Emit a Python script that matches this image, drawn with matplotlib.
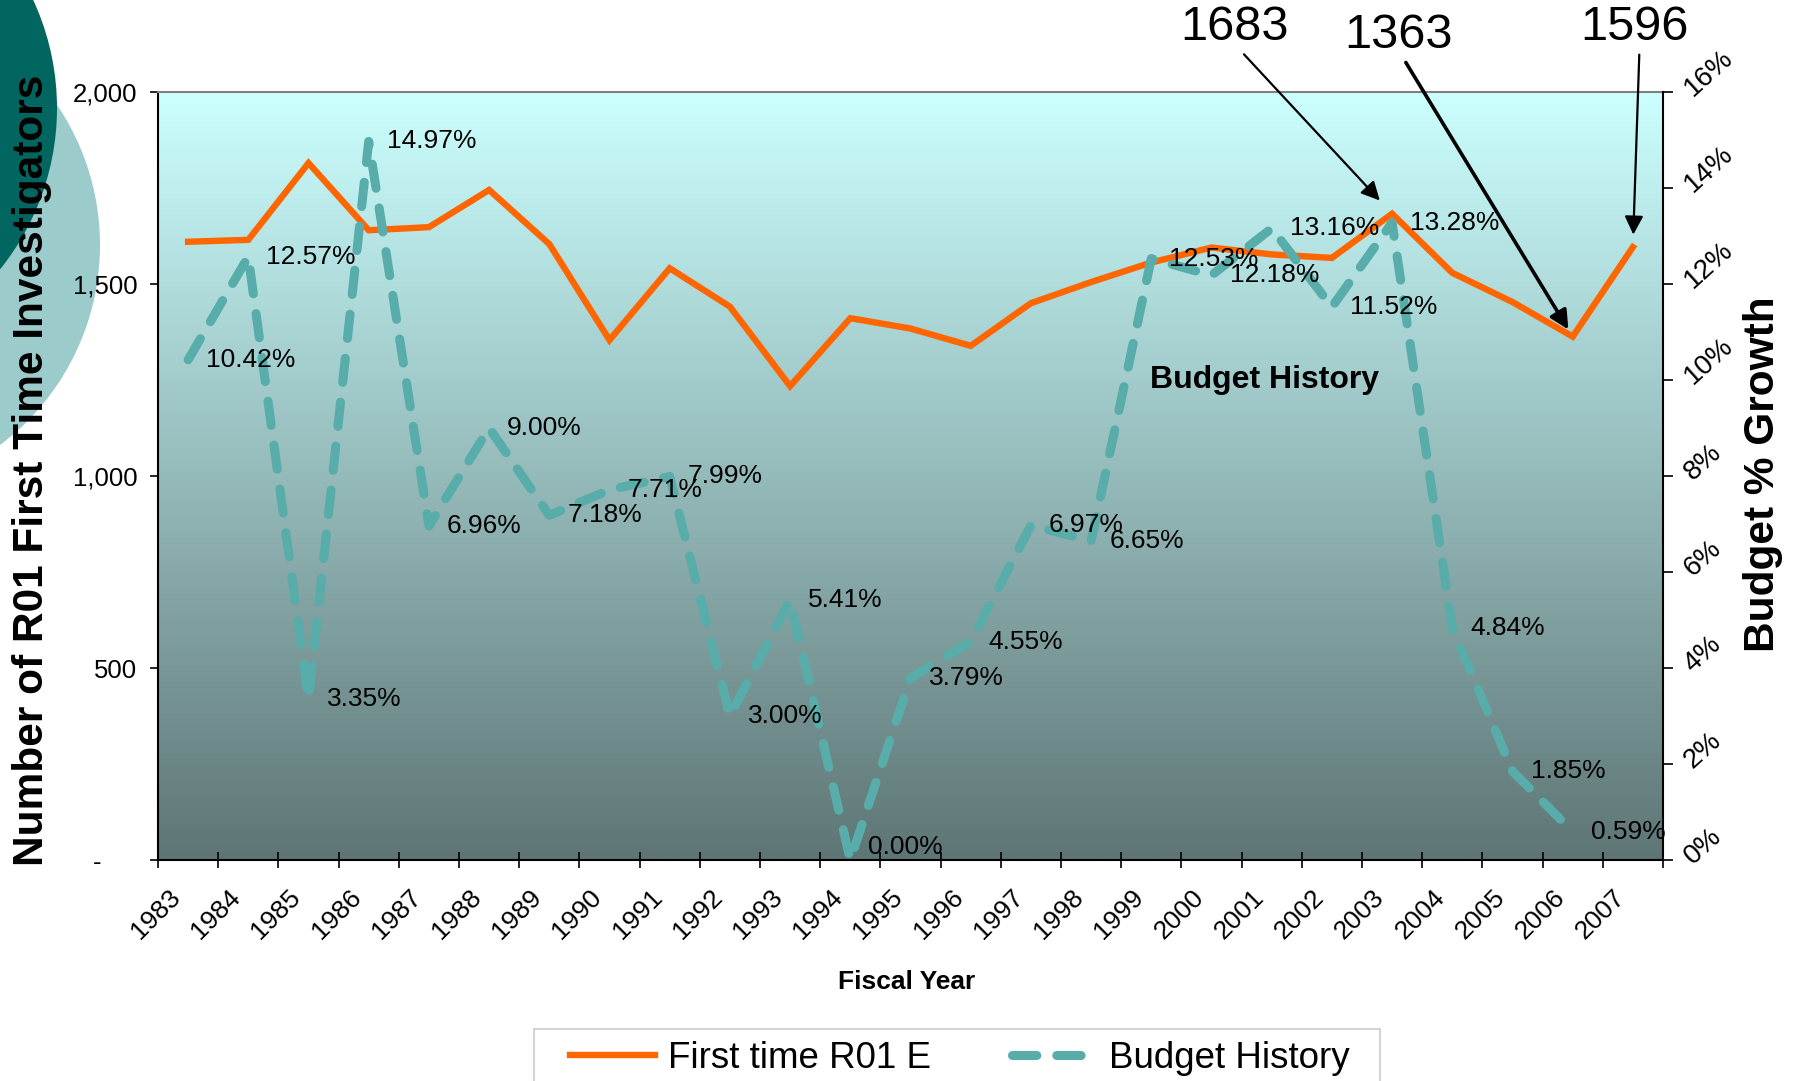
import numpy as np
import matplotlib
matplotlib.use("Agg")
import matplotlib.pyplot as plt
from matplotlib.patches import Circle, Rectangle
from matplotlib.colors import to_rgb
from matplotlib.transforms import ScaledTranslation

plt.rcParams['font.family'] = ['Liberation Sans', 'DejaVu Sans']

# Data
years = list(range(1983, 2008))
first_time_r01 = [1610, 1615, 1815, 1640, 1648, 1745, 1604, 1354, 1541, 1441,
                  1234, 1411, 1384, 1339, 1450, 1505, 1556, 1595, 1577, 1568,
                  1683, 1529, 1453, 1363, 1596]
budget_years = years[:-1]
budget_growth = [10.42, 12.57, 3.35, 14.97, 6.96, 9.00, 7.18, 7.71, 7.99, 3.00,
                 5.41, 0.00, 3.79, 4.55, 6.97, 6.65, 12.53, 12.18, 13.16, 11.52,
                 13.28, 4.84, 1.85, 0.59]
left_ticks = [0, 500, 1000, 1500, 2000]
left_ticklabels = ['-     ', '500', '1,000', '1,500', '2,000']
right_ticks = [0, 2, 4, 6, 8, 10, 12, 14, 16]
callout_years = [2003, 2006, 2007]

ORANGE = '#FF6600'
TEAL = '#58ACAA'

W, H = 1807, 1081
fig = plt.figure(figsize=(W / 100, H / 100), dpi=100)

def px(x, y):
    # pixel position (from top-left) -> figure fraction
    return x / W, 1 - y / H

# decorative circles in the top-left corner
deco = fig.add_axes([0, 0, 1, 1], zorder=-5)
deco.set_xlim(0, W)
deco.set_ylim(H, 0)
deco.axis('off')
deco.add_patch(Circle((-150, 245), 250, color='#9BCBCB', lw=0))
deco.add_patch(Circle((-200, 108), 257, color='#00665F', lw=0))

# main axes
ax = fig.add_axes([158 / W, 1 - 860 / H, 1505 / W, 768 / H])
ax.patch.set_visible(False)
top_c = np.array(to_rgb('#CCFFFF'))
bot_c = np.array(to_rgb('#5E7575'))
t = np.linspace(0, 1, 256)[:, None]
grad = (top_c * (1 - t) + bot_c * t)[:, None, :]
ax.imshow(grad, extent=[0, 1, 0, 1], transform=ax.transAxes,
          aspect='auto', zorder=0)

line1, = ax.plot(years, first_time_r01, color=ORANGE, lw=4.6, zorder=3,
                 solid_joinstyle='miter')
ax.set_xlim(1982.5, 2007.5)
ax.set_ylim(0, 2000)

ax.set_yticks(left_ticks)
ax.set_yticklabels(left_ticklabels, fontsize=18.5)
ax.tick_params(axis='y', direction='out', length=6, width=1.2, pad=9)

ax.set_xticks(np.arange(1982.5, 2008, 1))
ax.set_xticklabels([])
ax.set_xticks(years, minor=True)
ax.set_xticklabels([str(y) for y in years], minor=True, rotation=45,
                   ha='right', va='top', rotation_mode='anchor', fontsize=19)
ax.tick_params(axis='x', which='major', direction='inout', length=12, width=1.2)
ax.tick_params(axis='x', which='minor', length=0, pad=18)
shift = ScaledTranslation(-20 / 100, 0, fig.dpi_scale_trans)
for lbl in ax.get_xticklabels(minor=True):
    lbl.set_transform(lbl.get_transform() + shift)

for side in ['left', 'bottom']:
    ax.spines[side].set_color('black')
    ax.spines[side].set_linewidth(1.5)
ax.spines['top'].set_color('#808080')
ax.spines['top'].set_linewidth(1.5)
ax.spines['right'].set_visible(False)

ax.text(0.659, 0.625, 'Budget History', transform=ax.transAxes,
        fontsize=23, fontweight='bold', va='center', ha='left', zorder=4)

# budget growth on the right axis
ax2 = ax.twinx()
line2, = ax2.plot(budget_years, budget_growth, color=TEAL, lw=6.5,
                  dashes=(2.7, 2.2), dash_capstyle='round', zorder=3)
ax2.set_ylim(0, 16)
ax2.set_yticks(right_ticks)
ax2.set_yticklabels([f'{v}%' for v in right_ticks], rotation=42,
                    rotation_mode='anchor', ha='left', va='center', fontsize=20)
ax2.tick_params(axis='y', direction='out', length=7, width=1.2, pad=11)
for side in ['left', 'top', 'bottom']:
    ax2.spines[side].set_visible(False)
ax2.spines['right'].set_color('black')
ax2.spines['right'].set_linewidth(1.5)

for yr, v in zip(budget_years, budget_growth):
    # keep labels of near-zero points inside the plot area
    dy = 9 if v < 0.3 else 0
    ax2.annotate(f'{v:.2f}%', (yr, v), xytext=(13, dy),
                 textcoords='offset points', ha='left', va='center',
                 fontsize=19, zorder=5)

# callouts
value_of = dict(zip(years, first_time_r01))
callout_text = {2003: (1235, 28), 2006: (1398, 36), 2007: (1634, 28)}
callout_lw = {2003: 1.6, 2006: 2.6, 2007: 1.6}
callout_shrink = {2003: 13, 2006: 6, 2007: 9}
for yr in callout_years:
    tx, ty = callout_text[yr]
    ax.annotate(str(value_of[yr]), xy=(yr, value_of[yr]), xycoords='data',
                xytext=(tx, H - ty), textcoords='figure pixels',
                ha='center', va='center', fontsize=35, annotation_clip=False,
                arrowprops=dict(arrowstyle='-|>', color='black',
                                lw=callout_lw[yr], mutation_scale=28,
                                shrinkA=1, shrinkB=callout_shrink[yr],
                                relpos=(0.55, 0.0)))

# axis titles
fig.text(*px(32, 470), 'Number of R01 First Time Investigators', rotation=90,
         fontsize=30.5, fontweight='bold', ha='center', va='center')
fig.text(*px(1763, 474), 'Budget % Growth', rotation=90,
         fontsize=30.5, fontweight='bold', ha='center', va='center')
fig.text(*px(907, 982), 'Fiscal Year', fontsize=19, fontweight='bold',
         ha='center', va='center')

# legend, box running off the bottom edge
fig.add_artist(Rectangle(px(534, 1095), 846 / W, 66 / H,
                         transform=fig.transFigure, facecolor='white',
                         edgecolor='#D4D4D4', lw=1.5, zorder=2))
leg = fig.legend(handles=[line1, line2],
                 labels=['First time R01 E', 'Budget History'],
                 loc='center left', bbox_to_anchor=px(570, 1058), ncol=2,
                 fontsize=26.5, frameon=False, handlelength=2.3,
                 handletextpad=0.35, columnspacing=2.2, borderpad=0,
                 borderaxespad=0)
leg.set_zorder(3)

fig.savefig('out.png', dpi=100)
